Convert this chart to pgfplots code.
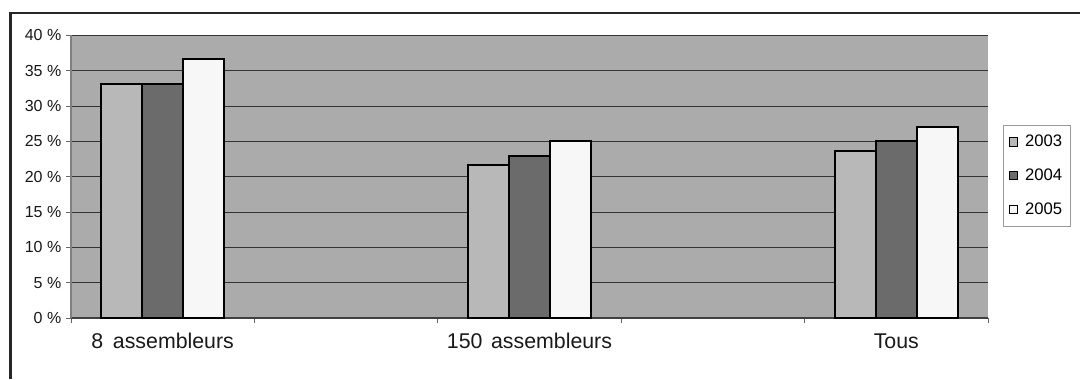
\documentclass[border=0pt]{standalone}
\usepackage{fontspec}
\setmainfont{Liberation Sans}
\usepackage{pgfplots}
\pgfplotsset{compat=1.18}
\newcommand{\lf}{\fontsize{12.5}{14}\selectfont}
\begin{document}
\begin{tikzpicture}
\path[use as bounding box] (0pt,0pt) rectangle (810pt,-284.25pt);
\fill[white] (0pt,0pt) rectangle (810pt,-284.25pt);
\draw[line width=1.7pt, black!85] (7.9pt,-284.25pt) -- (7.9pt,-9.75pt) -- (810pt,-9.75pt);
\begin{axis}[
  at={(53.25pt,-238.5pt)}, anchor=south west,
  scale only axis, width=687.75pt, height=211.9pt,
  xmin=0, xmax=5, ymin=0, ymax=40,
  ybar=0pt, bar width=0.2236,
  axis background/.style={fill=black!33},
  axis x line*=bottom, axis y line*=left,
  x axis line style={black!75, line width=0.9pt, -},
  y axis line style={black!50, line width=0.9pt, -},
  ytick={0,5,...,40},
  yticklabels={0 \%,5 \%,10 \%,15 \%,20 \%,25 \%,30 \%,35 \%,40 \%},
  yticklabel style={font=\fontsize{12}{14}\selectfont, black!90},
  ymajorgrids,
  major grid style={black!80, line width=0.75pt},
  xtick={0,1,...,5}, xticklabels={},
  extra x ticks={0.5,2.5,4.5},
  extra x tick labels={8\hspace{0.45em}assembleurs,150\hspace{0.4em}assembleurs,Tous},
  extra x tick style={major tick length=0pt, xticklabel style={font=\fontsize{16}{18}\selectfont, yshift=-8pt, black!90}},
  tick align=outside, major tick length=3.75pt,
  tick style={black!60, line width=0.75pt},
  legend style={at={(1.0167,0.684)}, anchor=north west, draw=black!40, line width=0.75pt, fill=white,
    row sep=11pt, inner xsep=4pt, inner ysep=5.5pt,
    /tikz/every odd column/.append style={column sep=3pt}},
  legend cell align=left,
  mylegend/.style={legend image code/.code={\draw[##1, line width=0.8pt] (0pt,-3.1pt) rectangle (6.2pt,3.1pt);}},
]
\addplot[draw=black, line width=1.5pt, fill=black!28, mylegend] coordinates {(0.5,33.1) (2.5,21.7) (4.5,23.7)};
\addplot[draw=black, line width=1.5pt, fill=black!58, mylegend] coordinates {(0.5,33.1) (2.5,23.0) (4.5,25.0)};
\addplot[draw=black, line width=1.5pt, fill=black!3, mylegend] coordinates {(0.5,36.7) (2.5,25.0) (4.5,27.0)};
\legend{{\lf 2003},{\lf 2004},{\lf 2005}}
\end{axis}
\end{tikzpicture}
\end{document}
